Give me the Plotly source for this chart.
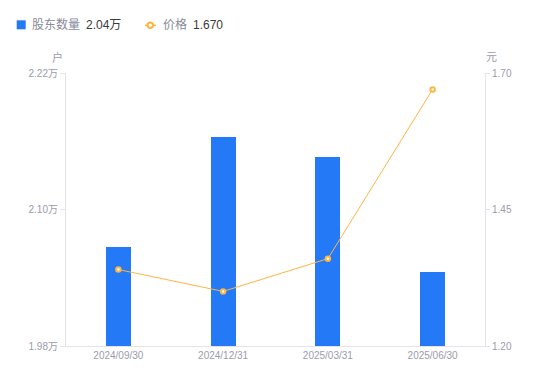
import plotly.graph_objects as go

# ---- data ----
categories = ["2024/09/30", "2024/12/31", "2025/03/31", "2025/06/30"]
holders_wan = [2.067, 2.164, 2.146, 2.045]   # 股东数量 (万户)
price = [1.34, 1.30, 1.36, 1.67]             # 价格 (元)
left_ticks = [1.98, 2.10, 2.22]
left_ticktext = ["1.98万", "2.10万", "2.22万"]
right_ticks = [1.20, 1.45, 1.70]
right_ticktext = ["1.20", "1.45", "1.70"]
legend_names = ["股东数量", "价格"]
legend_values = ["2.04万", "1.670"]

W, H = 550, 381
ML, MR, MT, MB = 66, 65, 73, 35
PW, PH = W - ML - MR, H - MT - MB

def fx(p):
    return (p - ML) / PW

def fy(p):
    return (H - MB - p) / PH

BLUE = "#2479F6"
ORANGE = "#FDB544"
AXIS = "#E3E3E8"
TICK = "#9B9BAB"
FONT = "Liberation Sans, Arial, Noto Sans CJK SC, sans-serif"

fig = go.Figure()
fig.add_trace(go.Bar(
    x=categories, y=holders_wan, width=0.24,
    marker=dict(color=BLUE, line=dict(width=0)),
    name=legend_names[0], yaxis="y", hoverinfo="skip",
))
fig.add_trace(go.Scatter(
    x=categories, y=price, mode="lines+markers",
    line=dict(color=ORANGE, width=1),
    marker=dict(size=4.5, color="white", line=dict(color=ORANGE, width=2)),
    name=legend_names[1], yaxis="y2", hoverinfo="skip",
))

annotations = []
shapes = []
# legend (custom)
shapes.append(dict(type="rect", xref="paper", yref="paper",
                   x0=fx(16.7), x1=fx(25.7), y0=fy(29.3), y1=fy(20.3),
                   fillcolor=BLUE, line=dict(width=0)))
annotations.append(dict(xref="paper", yref="paper", x=fx(30), y=fy(25),
                        xanchor="left", yanchor="middle", showarrow=False,
                        text=legend_names[0], font=dict(size=12, color="#8A8A99", family=FONT)))
annotations.append(dict(xref="paper", yref="paper", x=fx(83.5), y=fy(25),
                        xanchor="left", yanchor="middle", showarrow=False,
                        text=legend_values[0], font=dict(size=12, color="#3A3A3A", family=FONT)))
shapes.append(dict(type="line", xref="paper", yref="paper",
                   x0=fx(145), x1=fx(156), y0=fy(25.3), y1=fy(25.3),
                   line=dict(color=ORANGE, width=1.5)))
shapes.append(dict(type="circle", xref="paper", yref="paper",
                   x0=fx(147.5), x1=fx(153), y0=fy(28), y1=fy(22.5),
                   fillcolor="white", line=dict(color=ORANGE, width=2)))
annotations.append(dict(xref="paper", yref="paper", x=fx(160.5), y=fy(25),
                        xanchor="left", yanchor="middle", showarrow=False,
                        text=legend_names[1], font=dict(size=12, color="#8A8A99", family=FONT)))
annotations.append(dict(xref="paper", yref="paper", x=fx(190.5), y=fy(25),
                        xanchor="left", yanchor="middle", showarrow=False,
                        text=legend_values[1], font=dict(size=12, color="#3A3A3A", family=FONT)))
# axis unit titles
annotations.append(dict(xref="paper", yref="paper", x=fx(65), y=fy(57),
                        xanchor="right", yanchor="middle", showarrow=False,
                        text="户", font=dict(size=11, color=TICK, family=FONT)))
annotations.append(dict(xref="paper", yref="paper", x=fx(483.5), y=fy(57),
                        xanchor="left", yanchor="middle", showarrow=False,
                        text="元", font=dict(size=11, color=TICK, family=FONT)))

fig.update_layout(
    width=W, height=H,
    margin=dict(l=ML, r=MR, t=MT, b=MB, pad=0),
    paper_bgcolor="white", plot_bgcolor="white",
    showlegend=False,
    font=dict(family=FONT, size=10, color=TICK),
    bargap=0,
    xaxis=dict(
        type="category", showgrid=False, zeroline=False,
        showline=True, linecolor=AXIS, linewidth=1,
        ticks="", tickfont=dict(size=10, color=TICK, family=FONT),
        fixedrange=True,
    ),
    yaxis=dict(
        range=[1.98, 2.22], tickvals=left_ticks, ticktext=left_ticktext,
        showgrid=False, zeroline=False,
        showline=True, linecolor=AXIS, linewidth=1,
        ticks="outside", ticklen=5, tickcolor=AXIS,
        tickfont=dict(size=10, color=TICK, family=FONT),
        fixedrange=True,
    ),
    yaxis2=dict(
        range=[1.20, 1.70], tickvals=right_ticks, ticktext=right_ticktext,
        overlaying="y", side="right",
        showgrid=False, zeroline=False,
        showline=True, linecolor=AXIS, linewidth=1,
        ticks="outside", ticklen=4, tickcolor=AXIS,
        tickfont=dict(size=10, color=TICK, family=FONT),
        fixedrange=True,
    ),
    shapes=shapes,
    annotations=annotations,
)

fig.write_html("out.html", config={"displayModeBar": False},
               post_script="document.body.style.margin='0';document.body.style.overflow='hidden';")
